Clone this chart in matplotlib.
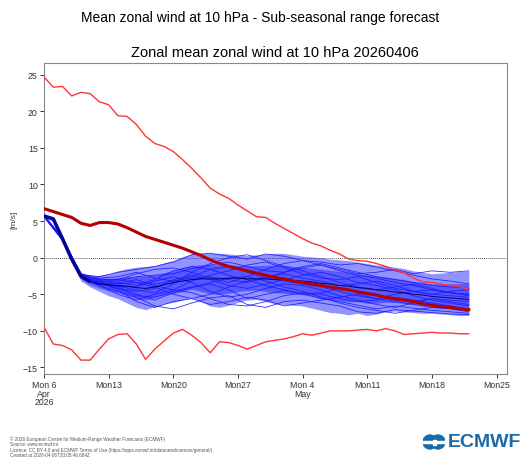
import matplotlib
matplotlib.use("Agg")
import matplotlib.pyplot as plt
from matplotlib.patches import Circle, Rectangle
import numpy as np

plt.rcParams['font.family'] = ['Liberation Sans', 'DejaVu Sans']

# days since Mon 6 Apr 2026
days = np.arange(47)

# climate upper / lower bound (thin red)
clim_max = [24.7, 23.3, 23.4, 22.1, 22.6, 22.4, 21.3, 20.9, 19.4, 19.3,
            18.2, 16.6, 15.6, 15.2, 14.5, 13.4, 12.2, 10.9, 9.5, 8.7,
            8.1, 7.2, 6.4, 5.6, 5.5, 4.7, 4.0, 3.3, 2.6, 2.0,
            1.6, 1.0, 0.5, -0.2, -0.4, -0.5, -0.8, -1.2, -1.7, -2.1,
            -2.8, -3.3, -3.4, -3.6, -3.8, -4.0, -4.3]
clim_min = [-9.5, -11.8, -12.0, -12.6, -14.0, -14.0, -12.5, -11.1, -10.5, -10.4,
            -11.8, -13.9, -12.5, -11.4, -10.3, -9.8, -10.6, -11.6, -13.0, -11.5,
            -11.6, -12.0, -12.5, -12.0, -11.5, -11.3, -11.1, -10.8, -10.4, -10.6,
            -10.3, -10.0, -10.0, -10.0, -9.9, -9.8, -10.0, -9.7, -10.0, -10.5,
            -10.4, -10.3, -10.2, -10.3, -10.3, -10.4, -10.4]
# climate mean (thick dark red)
clim_mean = [6.7, 6.3, 5.9, 5.5, 4.7, 4.4, 4.8, 4.8, 4.6, 4.1,
             3.5, 2.9, 2.5, 2.1, 1.7, 1.3, 0.8, 0.3, -0.3, -0.8,
             -1.2, -1.5, -1.8, -2.1, -2.4, -2.7, -2.9, -3.2, -3.4, -3.6,
             -3.8, -4.0, -4.2, -4.4, -4.7, -4.9, -5.1, -5.4, -5.6, -5.8,
             -6.0, -6.3, -6.5, -6.7, -6.8, -7.0, -7.1]

# ensemble mean and envelope
ens_mean = [5.7, 5.3, 2.6, -0.2, -2.5, -3.3, -3.6, -3.7, -3.8, -3.9,
            -4.1, -4.2, -4.0, -3.7, -3.4, -3.2, -3.0, -2.9, -2.9, -2.9,
            -2.8, -2.8, -2.9, -2.9, -2.9, -3.0, -3.0, -3.1, -3.2, -3.3,
            -3.5, -3.6, -3.8, -3.9, -4.1, -4.2, -4.4, -4.5, -4.7, -4.8,
            -5.0, -5.1, -5.3, -5.4, -5.5, -5.6, -5.7]
ens_hi = [5.9, 5.5, 2.9, 0.2, -2.0, -2.6, -2.4, -2.2, -1.8, -1.5,
          -1.3, -1.2, -1.1, -0.7, -0.4, 0.1, 0.5, 0.6, 0.6, 0.6,
          0.5, 0.4, 0.3, 0.4, 0.5, 0.6, 0.6, 0.4, 0.2, 0.1,
          0.0, -0.2, -0.3, -0.4, -0.6, -0.8, -1.0, -1.1, -1.3, -1.5,
          -1.8, -2.0, -2.2, -2.1, -2.0, -1.9, -1.8]
ens_lo = [5.5, 5.0, 2.2, -0.7, -3.2, -4.0, -4.6, -5.2, -5.6, -6.2,
          -6.8, -7.1, -6.7, -6.3, -6.1, -5.8, -5.4, -6.0, -6.6, -6.8,
          -6.5, -6.1, -5.8, -5.7, -6.0, -6.3, -6.4, -6.5, -6.6, -6.9,
          -7.2, -7.5, -7.6, -7.8, -7.6, -7.9, -7.7, -7.4, -7.3, -7.4,
          -7.5, -7.6, -7.6, -7.7, -7.8, -7.9, -7.9]

# a selection of members, every second day
member_days = days[::2]
members = [
    [5.7, 2.5, -2.3, -2.6, -2.0, -1.6, -1.2, -0.6, 0.4, 0.6, 0.2, -0.2, 0.5, 0.2, -0.4, -0.6, -1.0, -0.8, -1.3, -1.8, -2.4, -2.9, -3.2, -3.6],
    [5.7, 2.6, -2.6, -3.4, -4.0, -5.0, -5.8, -4.8, -4.1, -3.6, -4.4, -5.6, -5.0, -4.5, -4.9, -5.6, -6.0, -6.5, -7.0, -6.6, -6.9, -7.2, -7.4, -7.6],
    [5.8, 2.7, -2.4, -3.0, -3.2, -2.6, -2.4, -2.2, -1.5, -1.0, -0.6, -1.2, -1.8, -2.0, -1.4, -1.0, -1.6, -2.2, -2.0, -1.6, -2.2, -1.8, -2.0, -1.8],
    [5.6, 2.4, -2.8, -3.8, -4.6, -5.4, -6.6, -7.0, -6.2, -5.5, -5.2, -6.4, -6.8, -6.0, -5.8, -6.2, -6.6, -7.4, -7.6, -7.1, -7.3, -7.5, -7.7, -7.8],
    [5.7, 2.5, -2.5, -3.2, -3.5, -3.0, -3.8, -4.4, -3.2, -2.4, -1.8, -1.0, -0.6, -1.4, -2.2, -2.8, -3.0, -2.6, -3.4, -4.2, -4.6, -5.0, -5.2, -5.4],
    [5.7, 2.6, -2.4, -3.6, -3.9, -4.4, -4.8, -3.6, -2.0, -0.8, 0.0, 0.4, -0.4, -1.2, -1.8, -2.6, -3.4, -4.0, -4.4, -4.0, -3.6, -4.2, -4.8, -5.2],
    [5.6, 2.4, -2.7, -3.4, -4.4, -6.0, -6.8, -6.0, -5.6, -6.4, -6.0, -5.4, -5.8, -6.6, -6.2, -5.8, -5.4, -5.0, -5.6, -6.0, -6.4, -6.8, -6.9, -7.2],
    [5.8, 2.6, -2.2, -2.8, -2.6, -2.0, -2.8, -3.2, -2.6, -1.6, -1.2, -2.0, -2.8, -3.2, -3.6, -4.0, -4.6, -5.2, -5.6, -5.0, -4.6, -4.4, -4.8, -5.0],
    [5.7, 2.5, -2.6, -3.6, -4.2, -4.6, -4.2, -3.0, -2.4, -3.0, -3.8, -4.2, -3.6, -3.0, -2.4, -2.0, -2.6, -3.4, -3.8, -4.4, -5.2, -5.8, -6.2, -6.6],
    [5.7, 2.5, -2.5, -3.3, -3.9, -4.0, -3.2, -2.6, -3.4, -4.6, -5.4, -5.0, -4.2, -3.6, -3.8, -4.4, -5.2, -5.8, -6.4, -6.8, -6.2, -5.6, -6.0, -6.4],
    [5.6, 2.4, -2.6, -3.4, -3.6, -3.4, -4.0, -5.0, -5.6, -5.0, -4.0, -3.2, -2.6, -2.2, -2.8, -3.2, -3.8, -3.6, -3.2, -3.8, -4.6, -5.0, -4.6, -4.4],
    [5.8, 2.7, -2.3, -3.1, -3.4, -3.8, -3.0, -1.8, -1.2, -1.6, -2.4, -3.0, -3.8, -4.4, -5.0, -4.8, -4.2, -4.6, -5.2, -5.8, -6.0, -5.6, -5.8, -6.0],
    [5.7, 2.6, -2.5, -3.5, -4.2, -5.2, -5.4, -4.6, -4.0, -3.4, -2.8, -2.6, -3.2, -4.0, -4.6, -5.4, -6.2, -6.8, -7.2, -7.6, -7.2, -6.8, -7.0, -7.4],
    [5.7, 2.5, -2.4, -3.0, -3.0, -3.4, -3.6, -3.2, -2.8, -2.6, -3.0, -3.4, -2.8, -2.0, -1.2, -0.8, -1.4, -2.0, -2.6, -3.0, -3.4, -3.8, -4.0, -4.2],
    [5.6, 2.4, -2.7, -3.8, -5.0, -5.8, -5.0, -4.4, -4.8, -5.6, -6.4, -6.6, -6.0, -5.2, -4.8, -5.0, -5.6, -6.0, -5.8, -5.4, -5.8, -6.2, -6.6, -7.0],
    [5.7, 2.6, -2.3, -2.9, -3.0, -2.2, -1.6, -1.4, -2.0, -2.8, -3.4, -2.6, -1.6, -0.8, -0.4, -1.0, -1.8, -2.4, -2.8, -3.4, -3.8, -4.4, -4.8, -5.0],
]

tick_days = [0, 7, 14, 21, 28, 35, 42, 49]
tick_labels = ["Mon 6\nApr\n2026", "Mon13", "Mon20", "Mon27", "Mon 4\nMay", "Mon11", "Mon18", "Mon25"]
y_ticks = [-15, -10, -5, 0, 5, 10, 15, 20, 25]

footer = ["\u00a9 2026 European Centre for Medium-Range Weather Forecasts (ECMWF)",
          "Source: www.ecmwf.int",
          "Licence: CC BY 4.0 and ECMWF Terms of Use (https://apps.ecmwf.int/datasets/licences/general/)",
          "Created at 2026-04-06T20:05:46.684Z"]

fig = plt.figure(figsize=(5.30, 4.77), dpi=100)
ax = fig.add_axes([0.083, 0.2138, 0.873, 0.652])

ax.axhline(0, color='#555555', lw=0.7, ls=(0, (1, 1)), zorder=1)

# ensemble band
ax.fill_between(days, ens_lo, ens_hi, color='#3a3aff', alpha=0.55, lw=0, zorder=2)
core_lo = [m - (m - l) * 0.55 for m, l in zip(ens_mean, ens_lo)]
core_hi = [m + (h - m) * 0.55 for m, h in zip(ens_mean, ens_hi)]
ax.fill_between(days, core_lo, core_hi, color='#1010ff', alpha=0.45, lw=0, zorder=2)
for m in members:
    ax.plot(member_days, m, color='#1a1aff', lw=0.6, alpha=0.9, zorder=3)
ax.plot(days[:6], ens_mean[:6], color='#0808b0', lw=2.6, zorder=4, solid_capstyle='butt')
ax.plot(days, ens_mean, color='#000060', lw=0.7, zorder=4)

# climate lines
ax.plot(days, clim_max, color='#ff3535', lw=1.0, zorder=5)
ax.plot(days, clim_min, color='#ff3535', lw=1.0, zorder=5)
ax.plot(days, clim_mean, color='#b40000', lw=2.2, zorder=5)

ax.set_xlim(0, 50.1)
ax.set_ylim(-15.9, 26.6)
ax.set_xticks(tick_days)
ax.set_xticklabels(tick_labels, linespacing=0.9)
ax.set_yticks(y_ticks)
ax.tick_params(labelsize=6.3, colors='#333333', length=3, width=0.7, pad=1.5)
for s in ax.spines.values():
    s.set_color('#888888')
    s.set_linewidth(0.8)
ax.set_ylabel("[m/s]", fontsize=6, color='#333333', labelpad=4)
ax.set_title("Zonal mean zonal wind at 10 hPa 20260406", fontsize=10.5, pad=5)

fig.text(0.49, 0.962, "Mean zonal wind at 10 hPa - Sub-seasonal range forecast",
         ha='center', va='center', fontsize=10)

for i, line in enumerate(footer):
    fig.text(0.019, 1 - (439.5 + 5.3 * i) / 477, line, fontsize=3.3, color='#555555', va='center')

# logo
logo_col = '#1b6aa8'
fig.text(0.845, 1 - 443 / 477, "ECMWF", fontsize=14, fontweight='bold', color=logo_col,
         va='center', ha='left')
lax = fig.add_axes([423 / 530, 1 - 451 / 477, 22 / 530, 16 / 477])
lax.set_xlim(0, 22)
lax.set_ylim(0, 16)
lax.axis('off')
lax.add_patch(Circle((7, 8), 7, color=logo_col))
lax.add_patch(Circle((15, 8), 7, color=logo_col))
lax.add_patch(Rectangle((9.5, 5.5), 3, 5, color='white'))
lax.add_patch(Rectangle((0, 7.2), 22, 1.6, color='white'))

fig.savefig("out.png", dpi=100)
